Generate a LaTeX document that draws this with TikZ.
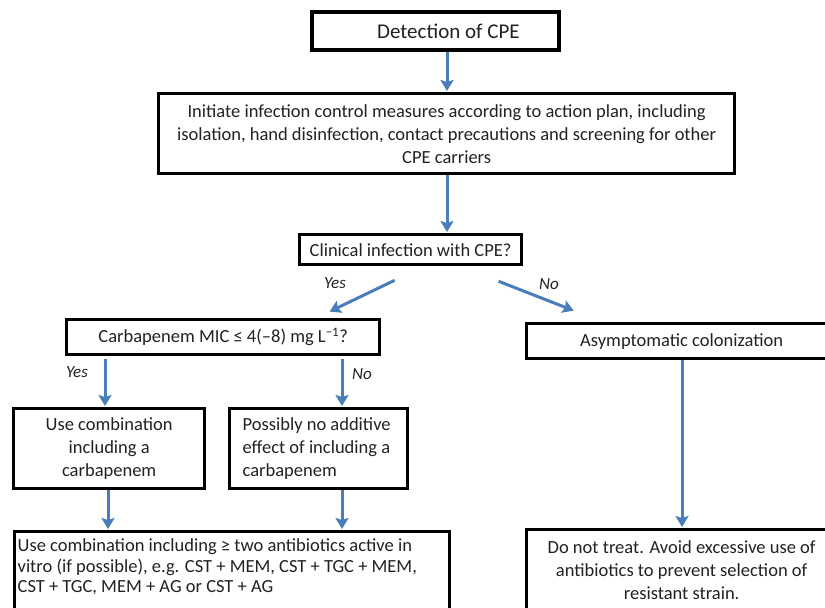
\documentclass[tikz,border=0pt]{standalone}
\usepackage{fontspec}
\setmainfont{Carlito}
\usetikzlibrary{arrows.meta,calc}
\definecolor{txt}{HTML}{222222}
\definecolor{arrowblue}{HTML}{4A7EBB}
\tikzset{
  box/.style={draw=black, line width=3.3pt, fill=white, inner sep=0pt, anchor=north west, text=txt,
    font=\fontsize{18.5}{23}\selectfont},
  arr/.style={draw=arrowblue, line width=3pt, -{Stealth[length=11pt,width=13pt,inset=2pt]}, shorten >=1pt},
  lbl/.style={font=\fontsize{17}{20}\selectfont\itshape, text=txt, inner sep=0pt}
}
\begin{document}
\begin{tikzpicture}[x=1pt,y=-1pt]
\useasboundingbox (0,0) rectangle (825,608);
\clip (0,0) rectangle (825,608);
\fill[white] (0,0) rectangle (825,608);

\node[box, line width=3.8pt, minimum width=247pt, minimum height=38pt, font=\fontsize{21}{25}\selectfont] (det) at (310,10) {\hspace*{26pt}Detection of CPE};

\node[box, minimum width=576pt, minimum height=80pt, align=center] (init) at (157,92)
  {Initiate infection control measures according to action plan, including\\
   isolation, hand disinfection, contact precautions and screening for other\\
   CPE carriers};

\node[box, minimum width=222pt, minimum height=30pt] (clin) at (298,233) {Clinical infection with CPE?};

\node[box, minimum width=313pt, minimum height=35pt] (carb) at (65,318)
  {Carbapenem MIC ≤ 4(–8) mg L\textsuperscript{−1}?};

\node[box, minimum width=310pt, minimum height=35pt] (asym) at (525,322) {Asymptomatic colonization};

\node[box, minimum width=191pt, minimum height=80pt, align=center] (usec) at (12,407)
  {Use combination\\including a\\carbapenem};

\node[box, minimum width=178pt, minimum height=80pt] (poss) at (228,407)
  {\hspace*{13pt}\parbox{165pt}{\raggedright Possibly no additive\\effect of including a\\carbapenem}};

\node[box] (comb) at (13,530)
  {\parbox[t][120pt][t]{435pt}{\fontsize{18.5}{20.5}\selectfont\vspace*{7pt}\hspace*{3pt}Use combination including ≥ two antibiotics active in\\
   \hspace*{3pt}vitro (if possible), e.g. CST + MEM, CST + TGC + MEM,\\
   \hspace*{3pt}CST + TGC, MEM + AG or CST + AG}};

\node[box] (dont) at (525,528)
  {\parbox[t][120pt][t]{310pt}{\centering\vspace*{11pt}Do not treat. Avoid excessive use of\\
   antibiotics to prevent selection of\\resistant strain.}};

\coordinate (cx) at (447,0);
\draw[arr] (det.south -| cx) -- (init.north -| cx);
\draw[arr] (init.south -| cx) -- (clin.north -| cx);

\draw[arr] ($(clin.south)+(-16,14)$) -- ($(carb.north)+(105.5,-6)$);
\draw[arr] ($(clin.south)+(88,15)$) -- ($(asym.north)+(-107,-11)$);
\node[lbl] (yes1) at (335,283) {Yes};
\node[lbl] (no1) at (549,284) {No};

\coordinate (lx) at (105,0);
\coordinate (rx) at (342,0);
\draw[arr] ($(carb.south -| lx)+(0,3)$) -- (usec.north -| lx);
\draw[arr] ($(carb.south -| rx)+(0,3)$) -- (poss.north -| rx);
\node[lbl] (yes2) at (77,372) {Yes};
\node[lbl] (no2) at (362,374) {No};

\coordinate (lx2) at (108,0);
\draw[arr] (usec.south -| lx2) -- (comb.north -| lx2);
\draw[arr] (poss.south -| rx) -- (comb.north -| rx);

\coordinate (ax) at (682,0);
\draw[arr] (asym.south -| ax) -- (dont.north -| ax);
\end{tikzpicture}
\end{document}
